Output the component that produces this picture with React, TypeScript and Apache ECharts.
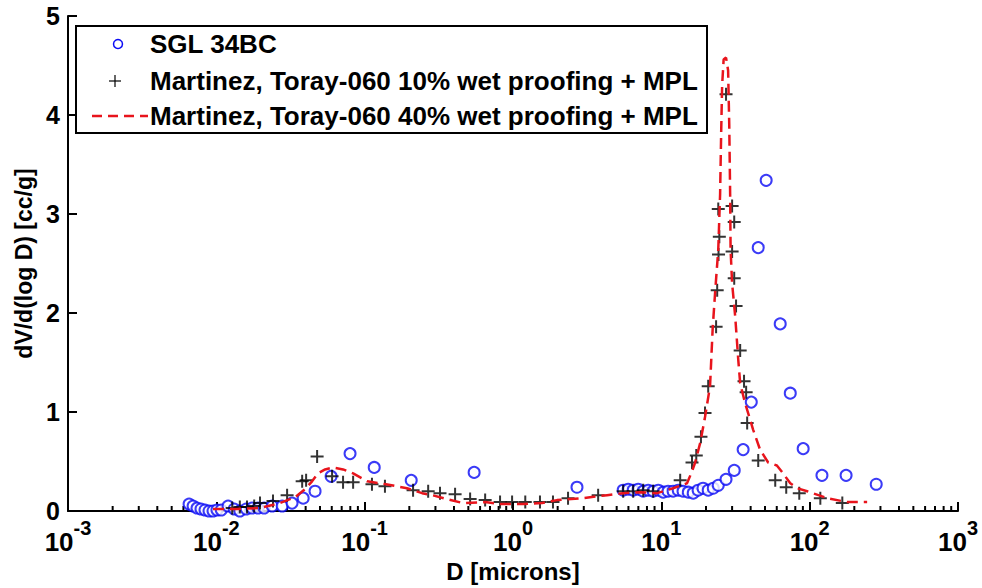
import React, { useEffect, useRef } from "react";
import * as echarts from "echarts";

// SGL 34BC (blue circles)
const sglD = [0.00655, 0.00697, 0.00741, 0.00788, 0.00839, 0.00893, 0.0095, 0.0101, 0.0108, 0.012, 0.0132, 0.0144, 0.0159, 0.0174, 0.0191, 0.021, 0.0238, 0.0278, 0.0324, 0.0385, 0.0463, 0.0594, 0.0797, 0.116, 0.206, 0.547, 2.7, 5.53, 5.98, 6.46, 6.98, 7.55, 8.15, 8.81, 9.53, 10.3, 11.1, 12.0, 13.0, 14.0, 15.2, 16.4, 17.7, 19.1, 20.7, 22.4, 24.2, 27.3, 31.0, 35.6, 40.4, 45.0, 50.9, 63.3, 74.0, 90.4, 121, 176, 281];
const sglV = [0.07, 0.05, 0.03, 0.02, 0.01, 0.0, 0.0, 0.01, 0.01, 0.05, 0.02, 0.0, 0.02, 0.03, 0.03, 0.03, 0.05, 0.05, 0.08, 0.13, 0.2, 0.35, 0.58, 0.44, 0.31, 0.39, 0.24, 0.21, 0.22, 0.21, 0.22, 0.2, 0.21, 0.2, 0.21, 0.19, 0.2, 0.2, 0.21, 0.2, 0.19, 0.18, 0.21, 0.23, 0.21, 0.23, 0.26, 0.32, 0.41, 0.62, 1.1, 2.66, 3.34, 1.89, 1.19, 0.63, 0.36, 0.36, 0.27];

// Martinez, Toray-060 10% (black crosses)
const t10D = [0.0128, 0.0144, 0.0161, 0.018, 0.0197, 0.0241, 0.03, 0.0379, 0.0403, 0.0478, 0.0603, 0.0715, 0.0836, 0.112, 0.137, 0.212, 0.268, 0.322, 0.407, 0.514, 0.649, 0.818, 0.986, 1.21, 1.52, 1.86, 2.35, 3.75, 5.53, 6.46, 7.55, 8.81, 13.4, 16.1, 17.2, 18.5, 19.7, 20.7, 23.4, 23.8, 24.3, 24.6, 24.2, 27.3, 30.0, 31.0, 30.0, 31.0, 31.9, 34.0, 36.1, 37.3, 37.9, 45.0, 58.6, 69.5, 85.1, 118, 166];
const t10V = [0.03, 0.04, 0.04, 0.05, 0.08, 0.1, 0.16, 0.3, 0.31, 0.55, 0.35, 0.29, 0.29, 0.27, 0.25, 0.21, 0.2, 0.18, 0.17, 0.12, 0.11, 0.09, 0.09, 0.09, 0.09, 0.09, 0.13, 0.16, 0.2, 0.2, 0.21, 0.2, 0.31, 0.49, 0.56, 0.75, 0.99, 1.26, 1.86, 2.23, 2.59, 2.77, 3.05, 4.21, 3.08, 2.92, 2.62, 2.35, 2.07, 1.62, 1.31, 1.2, 0.89, 0.51, 0.31, 0.24, 0.18, 0.13, 0.08];

// Martinez, Toray-060 40% (red dashed line)
const t40D = [0.0095, 0.0138, 0.0197, 0.0269, 0.034, 0.0396, 0.0442, 0.0485, 0.0541, 0.0612, 0.0715, 0.0836, 0.104, 0.139, 0.193, 0.244, 0.285, 0.36, 0.461, 0.649, 0.818, 1.17, 1.57, 1.98, 2.97, 4.31, 5.53, 7.19, 9.37, 12.0, 14.9, 16.1, 16.9, 18.3, 19.7, 21.3, 22.2, 23.1, 24.2, 24.9, 25.3, 25.7, 26.3, 27.3, 28.2, 28.7, 29.1, 29.3, 30.0, 31.5, 33.0, 34.0, 36.7, 41.6, 46.3, 52.5, 60.1, 66.2, 74.0, 82.4, 96.2, 131, 179, 244];
const t40V = [0.02, 0.02, 0.03, 0.08, 0.14, 0.22, 0.3, 0.38, 0.42, 0.44, 0.42, 0.38, 0.3, 0.27, 0.23, 0.18, 0.16, 0.12, 0.08, 0.09, 0.07, 0.07, 0.08, 0.11, 0.13, 0.16, 0.18, 0.19, 0.18, 0.23, 0.28, 0.4, 0.49, 0.69, 0.95, 1.26, 1.85, 2.23, 2.64, 3.2, 3.8, 4.3, 4.56, 4.58, 4.45, 3.9, 3.2, 2.64, 2.3, 1.96, 1.53, 1.29, 1.09, 0.82, 0.62, 0.49, 0.46, 0.38, 0.28, 0.23, 0.2, 0.13, 0.09, 0.09];

const xDecades = [-3, -2, -1, 0, 1, 2, 3];
const minorMultipliers = [2, 3, 4, 5, 6, 7, 8, 9];
const legendLabels = [
  "SGL 34BC",
  "Martinez, Toray-060 10% wet proofing + MPL",
  "Martinez, Toray-060 40% wet proofing + MPL",
];
const xTitle = "D [microns]";
const yTitle = "dV/d(log D) [cc/g]";

const FONT = '"Liberation Sans", Arial, sans-serif';
const BLUE = "#0a0af5";
const RED = "#e8141c";

export default function App() {
  const ref = useRef<HTMLDivElement>(null);
  useEffect(() => {
    if (!ref.current) return;
    const chart = echarts.init(ref.current, undefined, { renderer: "svg" });
    const zip = (a: number[], b: number[]) => a.map((d, i) => [d, b[i]]);
    const minorTicks: number[][] = [];
    xDecades.slice(0, -1).forEach((e) => {
      minorMultipliers.forEach((m) => minorTicks.push([m * Math.pow(10, e), 0]));
    });

    chart.setOption({
      animation: false,
      backgroundColor: "#fff",
      grid: { left: 68, right: 24, top: 16, bottom: 77, containLabel: false, outerBoundsMode: "none" },
      xAxis: {
        type: "log",
        logBase: 10,
        min: 0.001,
        max: 1000,
        name: xTitle,
        nameLocation: "middle",
        nameGap: 46,
        nameTextStyle: { fontFamily: FONT, fontWeight: "bold", fontSize: 24, color: "#000" },
        axisLine: { lineStyle: { color: "#000", width: 2 } },
        axisTick: { inside: true, length: 9, lineStyle: { color: "#000", width: 2 } },
        splitLine: { show: false },
        axisLabel: {
          margin: 7,
          formatter: (v: number) => `{b|10}{s|${Math.round(Math.log10(v))}}`,
          rich: {
            b: { fontFamily: FONT, fontWeight: "bold", fontSize: 26, color: "#000", lineHeight: 37, verticalAlign: "bottom" },
            s: { fontFamily: FONT, fontWeight: "bold", fontSize: 20, color: "#000", lineHeight: 14, verticalAlign: "top" },
          },
        },
      },
      yAxis: {
        type: "value",
        min: 0,
        max: 5,
        interval: 1,
        name: yTitle,
        nameLocation: "middle",
        nameGap: 26,
        nameRotate: 90,
        nameTextStyle: { fontFamily: FONT, fontWeight: "bold", fontSize: 23, color: "#000" },
        axisLine: { show: true, lineStyle: { color: "#000", width: 2 } },
        axisTick: { show: true, inside: true, length: 9, lineStyle: { color: "#000", width: 2 } },
        splitLine: { show: false },
        axisLabel: { fontFamily: FONT, fontWeight: "bold", fontSize: 25, color: "#000", margin: 8 },
      },
      series: [
        {
          type: "custom",
          silent: true,
          data: minorTicks,
          renderItem: (params: any, api: any) => {
            const p = api.coord([api.value(0), 0]);
            return {
              type: "line",
              shape: { x1: p[0], y1: p[1], x2: p[0], y2: p[1] - 5 },
              style: { stroke: "#000", lineWidth: 2 },
            };
          },
          z: 1,
        },
        {
          name: legendLabels[0],
          type: "scatter",
          data: zip(sglD, sglV),
          symbol: "emptyCircle",
          symbolSize: 11,
          itemStyle: { color: BLUE, borderColor: BLUE, borderWidth: 2 },
          z: 2,
        },
        {
          name: legendLabels[1],
          type: "scatter",
          data: zip(t10D, t10V),
          symbol: "path://M6,0 L6,12 M0,6 L12,6",
          symbolSize: 13,
          itemStyle: { color: "none", borderColor: "#000", borderWidth: 2 },
          z: 3,
        },
        {
          name: legendLabels[2],
          type: "line",
          data: zip(t40D, t40V),
          showSymbol: false,
          symbol: "none",
          lineStyle: { color: RED, width: 2.5, type: [11, 6] },
          z: 4,
        },
      ],
      graphic: [
        {
          type: "rect",
          shape: { x: 76, y: 26, width: 631, height: 107 },
          style: { fill: "#fff", stroke: "#000", lineWidth: 2 },
          z: 100,
        },
        {
          type: "circle",
          shape: { cx: 118, cy: 44, r: 4.5 },
          style: { fill: "none", stroke: BLUE, lineWidth: 1.5 },
          z: 101,
        },
        { type: "line", shape: { x1: 109, y1: 81, x2: 121, y2: 81 }, style: { stroke: "#000", lineWidth: 1.2 }, z: 101 },
        { type: "line", shape: { x1: 115, y1: 75, x2: 115, y2: 87 }, style: { stroke: "#000", lineWidth: 1.2 }, z: 101 },
        {
          type: "line",
          shape: { x1: 92, y1: 116, x2: 148, y2: 116 },
          style: { stroke: RED, lineWidth: 2.5, lineDash: [10, 6] },
          z: 101,
        },
        ...legendLabels.map((t, i) => ({
          type: "text",
          x: 150,
          y: [44, 81, 116][i],
          style: {
            text: t,
            fontFamily: FONT,
            fontWeight: "bold",
            fontSize: 26,
            fill: "#000",
            verticalAlign: "middle",
          },
          z: 101,
        })),
      ],
    });
    return () => chart.dispose();
  }, []);
  return (
    <div
      ref={ref}
      style={{ position: "fixed", left: 0, top: 0, width: 982, height: 588, background: "#fff" }}
    />
  );
}
